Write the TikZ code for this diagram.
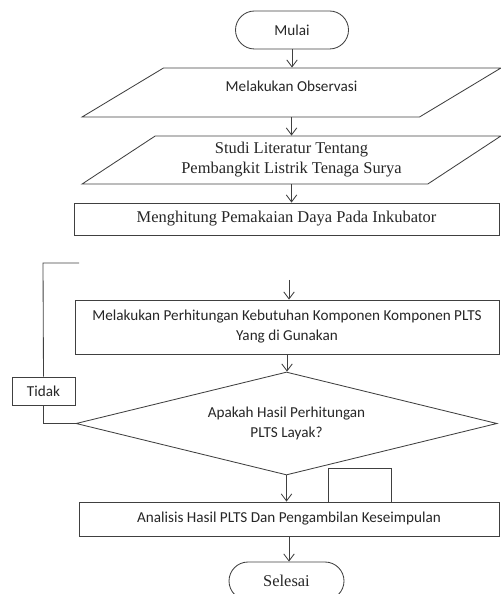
\documentclass[tikz,border=0pt]{standalone}
\usepackage{fontspec}
\setmainfont{Liberation Serif}
\newfontfamily\calibri{Carlito}
\usepackage{tikz}
\usetikzlibrary{arrows.meta,shapes.geometric,shapes.misc}

\tikzset{
  garis/.style={draw=black!75, line width=0.6pt},
  terminal/.style={garis, rounded rectangle, minimum width=#1, minimum height=0.95cm, inner sep=0pt},
  masukan/.style={garis, trapezium, trapezium left angle=30.6, trapezium right angle=149.4, trapezium stretches=true,
    minimum width=10.475cm, minimum height=#1, inner sep=0pt, align=center},
  proses/.style={garis, rectangle, minimum width=10.55cm, minimum height=#1, inner sep=0pt, align=center},
  putusan/.style={garis, diamond, aspect=4, minimum width=10.525cm, minimum height=2.575cm, inner sep=0pt, align=center},
  kecil/.style={garis, rectangle, minimum width=1.575cm, minimum height=#1, inner sep=0pt},
  sans/.style={font=\calibri\fontsize{10.8}{14.2}\selectfont},
  serif/.style={font=\fontsize{11.7}{14.2}\selectfont}
}

\begin{document}
\begin{tikzpicture}[>={Straight Barb[length=5pt,width=7.5pt]}, text=black!85]
\useasboundingbox (0,0) rectangle (12.5,-14.85);

\node[terminal=2.825cm, sans]   (mulai)   at (7.3,-0.75)      {Mulai};
\node[masukan=1.225cm, sans, text height=8pt, text depth=9.6pt] (observasi) at (7.2875,-2.3125) {Melakukan Observasi};
\node[masukan=1.2cm, serif]     (studi)   at (7.2875,-4.0)    {Studi Literatur Tentang\\Pembangkit Listrik Tenaga Surya};
\node[proses=0.8cm, serif, minimum width=10.625cm] (hitung) at (7.1625,-5.475) {Menghitung Pemakaian Daya Pada Inkubator};
\node[proses=1.35cm, sans, minimum width=10.6cm] (komponen) at (7.175,-8.175) {Melakukan Perhitungan Kebutuhan Komponen Komponen PLTS\\Yang di Gunakan};
\node[putusan, sans]            (layak)   at (7.1625,-10.5875) {Apakah Hasil Perhitungan\\PLTS Layak?};
\node[kecil=0.7cm, sans]        (tidak)   at (1.0875,-9.775)  {Tidak};
\node[kecil=0.85cm]             (kosong)  at (8.9875,-12.125) {};
\node[proses=0.85cm, sans, minimum width=10.5cm] (analisis) at (7.225,-12.975) {Analisis Hasil PLTS Dan Pengambilan Keseimpulan};
\node[terminal=2.875cm, serif]  (selesai) at (7.1625,-14.525) {Selesai};

\coordinate (ujung)  at (1.975,-6.575);
\coordinate (sudut)  at (1.075,-6.575);
\coordinate (masuk)  at (7.225,-7.0);

% alur utama
\path[->, color=black!75, line width=0.6pt]
  (mulai.south)     edge (mulai.south |- observasi.north)
  (observasi.south) edge (observasi.south |- studi.north)
  (studi.south)     edge (studi.south |- hitung.north)
  (masuk)           edge (masuk |- komponen.north)
  (komponen.south)  edge (komponen.south |- layak.north)
  (layak.south)     edge (layak.south |- analisis.north)
  (analisis.south)  edge (analisis.south |- selesai.north);

% jalur tidak
\draw[garis] (ujung) -- (sudut) -- (tidak.north);
\draw[garis] (tidak.south) |- (layak.west);
\end{tikzpicture}
\end{document}
